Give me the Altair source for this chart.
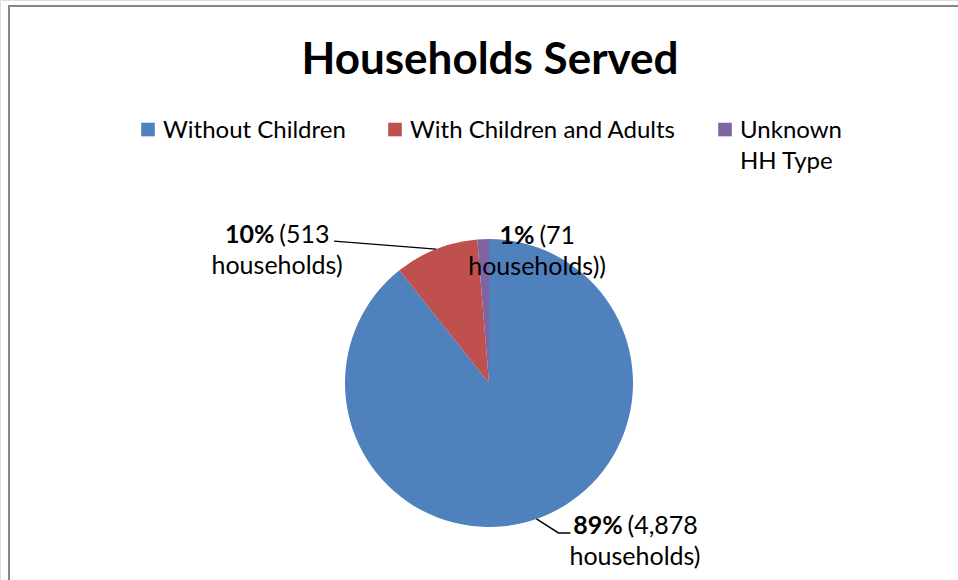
import altair as alt
import numpy as np
import pandas as pd

# ---------------- data ----------------
categories = ["Without Children", "With Children and Adults", "Unknown HH Type"]
households = [4878, 513, 71]
pct_text = ["89%", "10%", "1%"]
count_text = ["4,878", "513", "71"]
tail_text = ["households)", "households)", "households))"]
colors = ["#4F81BD", "#C0504D", "#8064A2"]
title_text = "Households Served"

# ---------------- layout ----------------
W, H = 958, 580
CX, CY, R = 489, 383, 144
FONT = "Lato"
LABEL_FS = 25
LEGEND_FS = 24
LINE_GAP = 31
# offset from each slice's outer mid point to the centre of its label's first line
label_offset = {
    "Without Children": (98.5, 7.5),
    "With Children and Adults": (-159, -13.6),
    "Unknown HH Type": (54, -3.6),
}
# leader line vertices, relative to the slice's outer mid point
leader_offsets = {
    "Without Children": [(0, 0), (22, 14), (34, 14)],
    "With Children and Adults": [(0, 0), (-102, -8)],
}

REG_W = {d: 0.58 for d in "0123456789"}
REG_W.update({" ": 0.193, "(": 0.29, ")": 0.29, ",": 0.2})
BOLD_W = {d: 0.58 for d in "0123456789"}
BOLD_W.update({"%": 0.86})


def text_w(s, table, fs):
    return sum(table.get(c, 0.55) for c in s) * fs


vals = np.array(households, dtype=float)
start = np.cumsum(vals) - vals
mid = (start + vals / 2) / vals.sum() * 2 * np.pi
edge_x = CX + R * np.sin(mid)
edge_y = CY - R * np.cos(mid)

rows = []
for i, cat in enumerate(categories):
    dx, dy = label_offset[cat]
    cx, cy = edge_x[i] + dx, edge_y[i] + dy
    bold = pct_text[i]
    normal = "(" + count_text[i]
    wb = text_w(bold, BOLD_W, LABEL_FS)
    ws = text_w(" ", REG_W, LABEL_FS)
    wn = text_w(normal, REG_W, LABEL_FS)
    split = cx + (wb - ws - wn) / 2
    rows.append(dict(category=cat, xs=split, xn=split + ws, y1=cy, bold=bold, normal=normal,
                     xc=cx, y2=cy + LINE_GAP, tail=tail_text[i]))
labels = pd.DataFrame(rows)

lrows = []
for i, cat in enumerate(categories):
    for k, (ox, oy) in enumerate(leader_offsets.get(cat, [])):
        lrows.append(dict(category=cat, k=k, x=edge_x[i] + ox, y=edge_y[i] + oy))
leaders = pd.DataFrame(lrows)

df = pd.DataFrame({"category": categories, "households": households,
                   "order": list(range(len(categories)))})

# ---------------- chart ----------------
border = alt.Chart(alt.Data(values=[{"a": 1}])).mark_rect(
    fill="white", stroke="#868686", strokeWidth=2
).encode(x=alt.value(9), y=alt.value(6), x2=alt.value(W + 200), y2=alt.value(H + 200))

title = alt.Chart(alt.Data(values=[{"t": title_text}])).mark_text(
    font=FONT, fontSize=44, fontWeight="bold", color="black", baseline="middle", align="center"
).encode(x=alt.value(490), y=alt.value(61), text="t:N")

legend = alt.Legend(
    orient="none", legendX=136, legendY=107, direction="horizontal", title=None,
    symbolType="M-1,0.55H1V2.55H-1Z", symbolSize=185, symbolStrokeWidth=0,
    labelFont=FONT, labelFontSize=LEGEND_FS, labelColor="black", labelOffset=3,
    columnPadding=37, labelBaseline="top", labelLimit=500,
    labelExpr="datum.label == 'Unknown HH Type' ? ['Unknown', 'HH Type'] : [datum.label, ' ']",
)

pie = alt.Chart(df).mark_arc(radius=R).encode(
    theta=alt.Theta("households:Q", stack=True),
    color=alt.Color("category:N", scale=alt.Scale(domain=categories, range=colors),
                    sort=categories, legend=legend),
    order=alt.Order("order:Q"),
    x=alt.value(CX), y=alt.value(CY),
)

lead = alt.Chart(leaders).mark_line(color="black", strokeWidth=1.4).encode(
    x=alt.X("x:Q", scale=None, axis=None),
    y=alt.Y("y:Q", scale=None, axis=None),
    detail="category:N", order="k:Q",
)

txt_bold = alt.Chart(labels).mark_text(
    font=FONT, fontSize=LABEL_FS, fontWeight="bold", align="right", baseline="middle", color="black"
).encode(x=alt.X("xs:Q", scale=None, axis=None), y=alt.Y("y1:Q", scale=None, axis=None), text="bold:N")

txt_norm = alt.Chart(labels).mark_text(
    font=FONT, fontSize=LABEL_FS, align="left", baseline="middle", color="black"
).encode(x=alt.X("xn:Q", scale=None, axis=None), y=alt.Y("y1:Q", scale=None, axis=None), text="normal:N")

txt_tail = alt.Chart(labels).mark_text(
    font=FONT, fontSize=LABEL_FS, align="center", baseline="middle", color="black"
).encode(x=alt.X("xc:Q", scale=None, axis=None), y=alt.Y("y2:Q", scale=None, axis=None), text="tail:N")

chart = alt.layer(border, title, pie, lead, txt_bold, txt_norm, txt_tail).properties(
    width=W, height=H, autosize=alt.AutoSizeParams(type="none"), padding=0,
).configure_view(stroke=None).configure(
    style={"guide-label": {"lineHeight": LINE_GAP}}
)

chart.save("out.html", embed_options={"renderer": "svg", "actions": False})
